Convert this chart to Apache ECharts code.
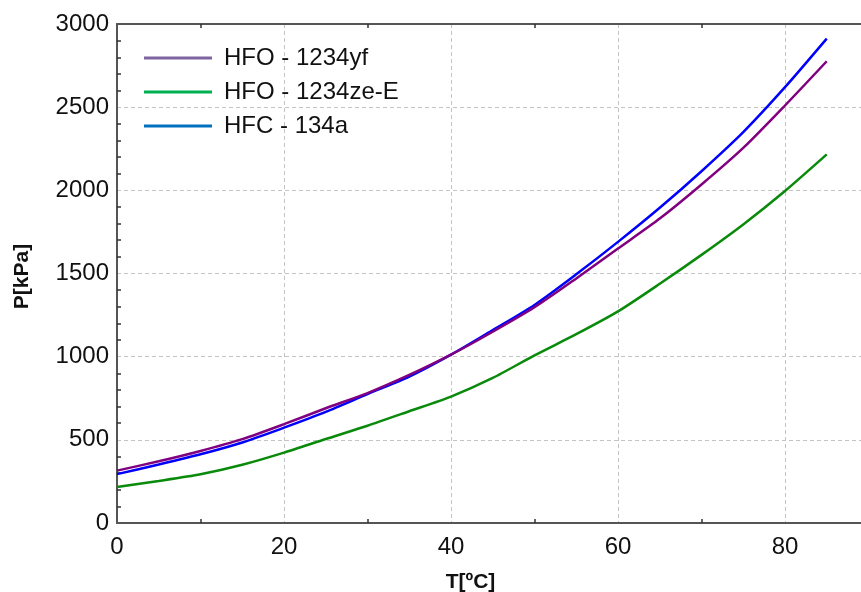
<!DOCTYPE html>
<html>
<head>
<meta charset="utf-8">
<script src="https://cdn.jsdelivr.net/npm/echarts@6/dist/echarts.min.js"></script>
<style>
  html, body { margin: 0; padding: 0; background: #fff; }
  #chart { width: 861px; height: 592px; }
</style>
</head>
<body>
<div id="chart"></div>
<script>
// Saturation pressure [kPa] versus temperature [°C]
const temperatures = [0, 5, 10, 15, 20, 25, 30, 35, 40, 45, 50, 55, 60, 65, 70, 75, 80, 85];
const hfo1234yf  = [315, 371, 433, 504, 594, 690, 781, 890, 1012, 1150, 1297, 1470, 1650, 1830, 2035, 2255, 2510, 2776];
const hfo1234zeE = [217, 253, 293, 350, 423, 505, 585, 672, 760, 872, 1008, 1135, 1272, 1438, 1612, 1795, 1996, 2216];
const hfc134a    = [294, 352, 413, 484, 573, 668, 775, 880, 1012, 1160, 1311, 1495, 1690, 1895, 2115, 2350, 2620, 2912];

const seriesNames = ['HFO - 1234yf', 'HFO - 1234ze-E', 'HFC - 134a'];
const lineColors = ['#800080', '#0a8a0a', '#0000ff'];
const legendColors = ['#8064a2', '#00b050', '#0070c0'];

const FONT = '"Liberation Sans", Arial, Helvetica, sans-serif';

function pairs(values) {
  return temperatures.map((t, i) => [t, values[i]]);
}

const axisLineStyle = { color: '#555', width: 2 };
const gridLineStyle = { color: '#c4c4c4', width: 1, type: [4, 3] };
const minorTickStyle = { color: '#333', width: 1.5 };

function lineSeries(idx, values) {
  return {
    name: seriesNames[idx],
    type: 'line',
    data: pairs(values),
    symbol: 'none',
    smooth: 0.25,
    lineStyle: { color: lineColors[idx], width: 2.5 },
    itemStyle: { color: lineColors[idx] }
  };
}

const chart = echarts.init(document.getElementById('chart'), null, { renderer: 'canvas' });

chart.setOption({
  animation: false,
  backgroundColor: '#fff',
  textStyle: { fontFamily: FONT },
  grid: { left: 117, top: 24, width: 835, bottom: 69, containLabel: false, outerBoundsMode: 'none' },
  legend: {
    orient: 'vertical',
    left: 139,
    top: 41,
    icon: 'rect',
    itemWidth: 68,
    itemHeight: 3,
    itemGap: 10,
    textStyle: { fontSize: 24, color: '#111', fontFamily: FONT, padding: [0, 0, 0, 7] },
    data: seriesNames.map((name, i) => ({
      name: name,
      itemStyle: { color: legendColors[i] }
    }))
  },
  xAxis: [
    {
      type: 'value',
      position: 'bottom',
      min: 0,
      max: 100,
      interval: 20,
      name: 'T[ºC]',
      nameLocation: 'middle',
      nameGap: 49,
      nameTextStyle: { fontSize: 21, fontWeight: 'bold', color: '#111', padding: [0, 128, 0, 0] },
      axisLine: { show: true, onZero: false, lineStyle: axisLineStyle },
      axisTick: { show: false, inside: true },
      minorTick: { show: true, splitNumber: 2, length: 4, lineStyle: minorTickStyle },
      axisLabel: { fontSize: 24, color: '#111', margin: 12, formatter: (v) => String(v) },
      splitLine: { show: true, lineStyle: gridLineStyle }
    },
    {
      type: 'value',
      position: 'top',
      min: 0,
      max: 100,
      interval: 20,
      axisLine: { show: true, onZero: false, lineStyle: axisLineStyle },
      axisTick: { show: false, inside: true },
      minorTick: { show: true, splitNumber: 2, length: 4, lineStyle: minorTickStyle },
      axisLabel: { show: false },
      splitLine: { show: false }
    }
  ],
  yAxis: {
    type: 'value',
    min: 0,
    max: 3000,
    interval: 500,
    name: 'P[kPa]',
    nameLocation: 'middle',
    nameGap: 84,
    nameRotate: 90,
    nameTextStyle: { fontSize: 21, fontWeight: 'bold', color: '#111', padding: [0, 6, 0, 0] },
    axisLine: { show: true, onZero: false, lineStyle: axisLineStyle },
    axisTick: { show: false, inside: true },
    minorTick: { show: true, splitNumber: 5, length: 4, lineStyle: minorTickStyle },
    axisLabel: { fontSize: 24, color: '#111', margin: 8, formatter: (v) => String(v) },
    splitLine: { show: true, lineStyle: gridLineStyle }
  },
  series: [
    lineSeries(2, hfc134a),
    lineSeries(1, hfo1234zeE),
    lineSeries(0, hfo1234yf)
  ]
});
</script>
</body>
</html>
